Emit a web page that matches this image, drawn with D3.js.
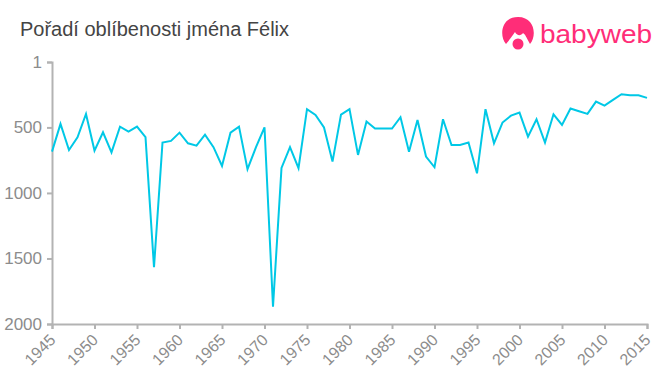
<!DOCTYPE html>
<html>
<head>
<meta charset="utf-8">
<script src="https://cdn.jsdelivr.net/npm/d3@7"></script>
<style>
  html, body { margin: 0; padding: 0; background: #fff; }
  svg { display: block; }
  text { font-family: "Liberation Sans", Arial, sans-serif; }
</style>
</head>
<body>
<div id="chart"></div>
<script>
var title = "Pořadí oblíbenosti jména Félix";
var years = d3.range(1945, 2016);
// rank, one per year
var ranks = [
  685, 473, 672, 575, 397, 677, 537, 690, 494, 532,
  494, 575, 1567, 616, 603, 540, 621, 639, 555, 651,
  794, 540, 494, 819, 651, 499, 1868, 809, 651, 811,
  361, 405, 501, 761, 402, 361, 710, 455, 509, 509,
  509, 422, 685, 443, 722, 804, 438, 634, 634, 616,
  850, 361, 621, 463, 410, 387, 570, 438, 616, 400,
  481, 356, 377, 397, 303, 334, 290, 247, 255, 255,
  275
];
var yTicks = [1, 500, 1000, 1500, 2000];
var xTicks = d3.range(1945, 2016, 5);

var w = 660;
var h = 375;

var svg = d3.select("#chart")
            .append("svg")
            .attr("width", w)
            .attr("height", h);

var xScale = d3.scaleLinear().domain([1945, 2015]).range([52, 647]);
var yScale = d3.scaleLinear().domain([1, 2000]).range([62, 324]);

//title
svg.append("text")
   .attr("x", 20)
   .attr("y", 36)
   .attr("font-size", 20)
   .attr("fill", "#444")
   .text(title);

//y axis
var yAxis = svg.append("g")
   .attr("transform", "translate(" + xScale.range()[0] + ",0)")
   .call(d3.axisLeft(yScale).tickValues(yTicks).tickFormat(d3.format("d")).tickSize(5).tickPadding(5));

//x axis
var xAxis = svg.append("g")
   .attr("transform", "translate(0," + yScale.range()[1] + ")")
   .call(d3.axisBottom(xScale).tickValues(xTicks).tickFormat(d3.format("d")).tickSize(5));

[xAxis, yAxis].forEach(function(a) {
  a.selectAll("path, line").attr("stroke", "#b3b3b3").attr("stroke-width", 2);
  a.selectAll("text").attr("fill", "#8c8c8c").attr("font-size", 17);
  a.attr("font-family", null);
});

// text sits inside the tick group, so rotate around its local origin
xAxis.selectAll("text")
   .attr("text-anchor", "end")
   .attr("x", 0)
   .attr("y", 0)
   .attr("dy", "0.35em")
   .attr("font-size", 16)
   .attr("transform", "translate(0,13) rotate(-45)");

//the line
var line = d3.line()
   .x(function(d, i) { return xScale(years[i]); })
   .y(function(d) { return yScale(d); });

svg.append("path")
   .datum(ranks)
   .attr("fill", "none")
   .attr("stroke", "#00c8e6")
   .attr("stroke-width", 2)
   .attr("d", line);

//logo, head + dummy + name
var logo = svg.append("g").attr("fill", "#ff2d78");
logo.append("path")
    .attr("d", "M506 44 C499 36 501 17 518 17 C535 17 537 36 530 44 C527 39 526 35 523 33 C521 36 517 36 515 32 C513 35 510 39 506 44 Z");
logo.append("circle").attr("cx", 518).attr("cy", 44).attr("r", 5.5);
logo.append("text")
    .attr("x", 540)
    .attr("y", 43)
    .attr("font-family", "'Open Sans', sans-serif")
    .attr("font-size", 26)
    .attr("textLength", 112)
    .attr("lengthAdjust", "spacingAndGlyphs")
    .text("babyweb");
</script>
</body>
</html>
